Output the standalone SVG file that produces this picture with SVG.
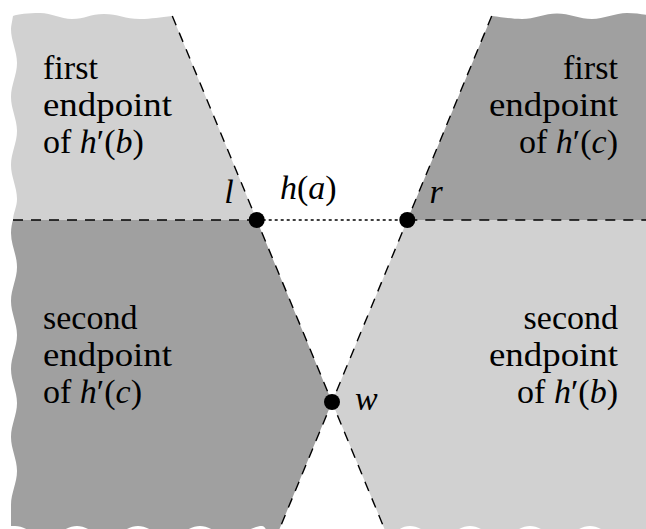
<svg xmlns="http://www.w3.org/2000/svg" width="646" height="529" viewBox="0 0 646 529">
<style>
.light{fill:#d1d1d1;stroke:none}
.dark{fill:#a0a0a0;stroke:none}
.dash{stroke:#000;stroke-width:1.4;stroke-dasharray:10 8;fill:none}
.dot{stroke:#000;stroke-width:1.4;stroke-dasharray:3 3;fill:none}
.pt{fill:#000}
text{font-family:"Liberation Serif","Times New Roman",serif;font-size:34px;fill:#000}
.it{font-style:italic}
.r{text-anchor:end}
</style>
<rect width="646" height="529" fill="#fff"/>
<g id="region-first-b">
<path class="light" d="M 13 220 L 256.7 220 L 172.3 16 C 160 17, 152 19, 140 19 C 125 19, 118 14, 104 14 C 90 14, 85 19, 72 19 C 60 19, 52 13, 40 13 C 28 13, 18 14, 13 16 C 12 22, 11 26, 11 29 C 11 41, 17 51, 17 63 C 17 75, 11 85, 11 97 C 11 109, 17 119, 17 131 C 17 143, 11 153, 11 165 C 11 177, 17 187, 17 199 C 17 207, 13 213, 13 220 Z"/>
<text x="43" y="79" textLength="55" lengthAdjust="spacingAndGlyphs">first</text>
<text x="43" y="116" textLength="129" lengthAdjust="spacingAndGlyphs">endpoint</text>
<text x="43" y="153">of <tspan class="it">h</tspan>′(<tspan class="it">b</tspan>)</text>
</g>
<g id="region-first-c">
<path class="dark" d="M 407.3 220 L 491.7 16 C 502 17, 510 19, 522 19 C 534 19, 545 13.5, 557 13.5 C 569 13.5, 580 19, 592 19 C 604 19, 615 13, 627 13 C 635 13, 641 14, 647 15 L 647 220 Z"/>
<text class="r" x="618" y="79" textLength="55" lengthAdjust="spacingAndGlyphs">first</text>
<text class="r" x="618" y="116" textLength="129" lengthAdjust="spacingAndGlyphs">endpoint</text>
<text class="r" x="618" y="153">of <tspan class="it">h</tspan>′(<tspan class="it">c</tspan>)</text>
</g>
<g id="region-second-c">
<path class="dark" d="M 13 220 L 256.7 220 L 332 402 L 276.6 536 L 272 536 C 268 536, 266 526, 262 526 C 252 526, 241 536, 231 536 C 221 536, 210 526, 200 526 C 190 526, 179 536, 169 536 C 159 536, 148 526, 138 526 C 128 526, 117.5 536, 107.5 536 C 97.5 536, 87 526, 77 526 C 67 526, 56 536, 46 536 C 36 536, 25 526, 15 526 L 11 526 L 11 505 C 11 493, 17 483, 17 471 C 17 459, 11 449, 11 437 C 11 425, 17 415, 17 403 C 17 391, 11 381, 11 369 C 11 357, 17 347, 17 335 C 17 323, 11 313, 11 301 C 11 289, 17 279, 17 267 C 17 255, 11 245, 11 233 C 11 228, 12 223, 13 220 Z"/>
<text x="43" y="329">second</text>
<text x="43" y="366" textLength="129" lengthAdjust="spacingAndGlyphs">endpoint</text>
<text x="43" y="403">of <tspan class="it">h</tspan>′(<tspan class="it">c</tspan>)</text>
</g>
<g id="region-second-b">
<path class="light" d="M 407.3 220 L 647 220 L 647 536 L 620 536 C 610 536, 600 526, 590 526 C 580 526, 570 536, 560 536 C 550 536, 540 526, 530 526 C 520 526, 510 536, 500 536 C 490 536, 480 526, 470 526 C 460 526, 450 536, 440 536 C 430 536, 420 526, 410 526 C 400 526, 395 534, 388 536 L 387.4 536 L 332 402 Z"/>
<text class="r" x="618" y="329">second</text>
<text class="r" x="618" y="366" textLength="129" lengthAdjust="spacingAndGlyphs">endpoint</text>
<text class="r" x="618" y="403">of <tspan class="it">h</tspan>′(<tspan class="it">b</tspan>)</text>
</g>
<g id="connectors">
<line class="dash" x1="172.3" y1="16" x2="387.4" y2="536"/>
<line class="dash" x1="491.7" y1="16" x2="276.6" y2="536"/>
<line class="dash" x1="13" y1="220" x2="256.7" y2="220"/>
<line class="dash" x1="407.3" y1="220" x2="646" y2="220"/>
<line class="dot" x1="256.7" y1="220" x2="407.3" y2="220"/>
</g>
<g id="edge-label-h-a">
<text class="it" x="280" y="199">h<tspan font-style="normal">(</tspan>a<tspan font-style="normal">)</tspan></text>
</g>
<g id="point-l">
<circle class="pt" cx="256.7" cy="220" r="8"/>
<text class="it" x="229" y="203" text-anchor="middle">l</text>
</g>
<g id="point-r">
<circle class="pt" cx="407.3" cy="220" r="8"/>
<text class="it" x="436" y="203" text-anchor="middle">r</text>
</g>
<g id="point-w">
<circle class="pt" cx="332" cy="402" r="8"/>
<text class="it" x="355" y="410">w</text>
</g>
</svg>
